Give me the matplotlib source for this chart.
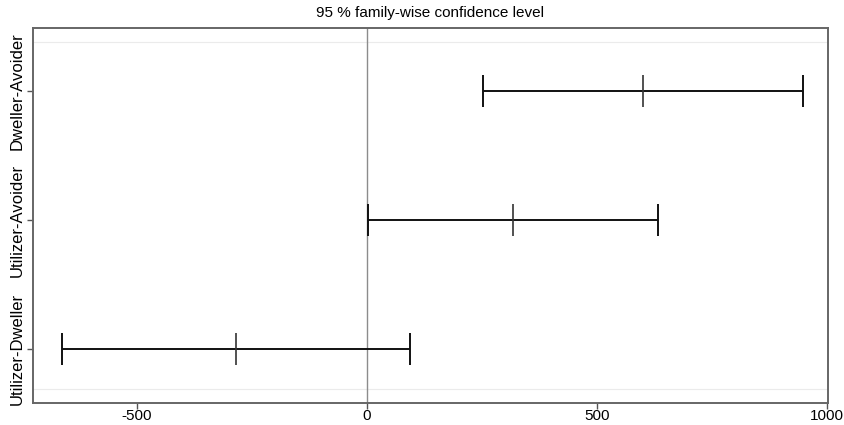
import matplotlib
matplotlib.use("Agg")
import matplotlib.pyplot as plt
import numpy as np

plt.rcParams['font.family'] = ['Liberation Sans', 'DejaVu Sans']

comparisons = ["Utilizer-Dweller", "Utilizer-Avoider", "Dweller-Avoider"]
diff = [-284, 317, 600]
lwr = [-662, 1.5, 253]
upr = [94, 633, 948]
xticks = [-500, 0, 500, 1000]

fig = plt.figure(figsize=(8.45, 4.25), dpi=100)
ax = fig.add_axes([33/845, 22/425, (828-33)/845, (403-28)/425])

pos = np.arange(len(comparisons))
diff_a = np.array(diff)
lo = diff_a - np.array(lwr)
hi = np.array(upr) - diff_a

# faint horizontal lines
for yv in (-0.31, 2.38):
    ax.axhline(yv, color='#ebebeb', lw=0.8, zorder=0)
ax.axvline(0, color='#8c8c8c', lw=1.0, zorder=1)

ax.errorbar(diff, pos, xerr=[lo, hi], fmt='none', ecolor='#111111',
            elinewidth=1.4, capsize=11.5, capthick=1.4, zorder=3)
ax.plot(diff, pos, linestyle='none', marker='|', markersize=23,
        markeredgewidth=1.2, color='#333333', zorder=4)

ax.set_xlim(-726, 1002)
ax.set_ylim(-0.419, 2.488)
ax.set_xticks(xticks)
ax.set_xticklabels([str(t) for t in xticks])
ax.set_yticks(pos)
ax.set_yticklabels(comparisons, rotation=90, va='center')

for s in ax.spines.values():
    s.set_color('#666666')
    s.set_linewidth(1.4)
ax.tick_params(axis='x', length=4, width=1, color='#555555', labelsize=11, pad=0.5)
ax.tick_params(axis='y', length=4, width=1, color='#555555', labelsize=12, pad=2)

fig.text((33+828)/2/845, 1-13/425, "95 % family-wise confidence level",
         ha='center', va='center', fontsize=11)

fig.savefig("out.png", dpi=100)
